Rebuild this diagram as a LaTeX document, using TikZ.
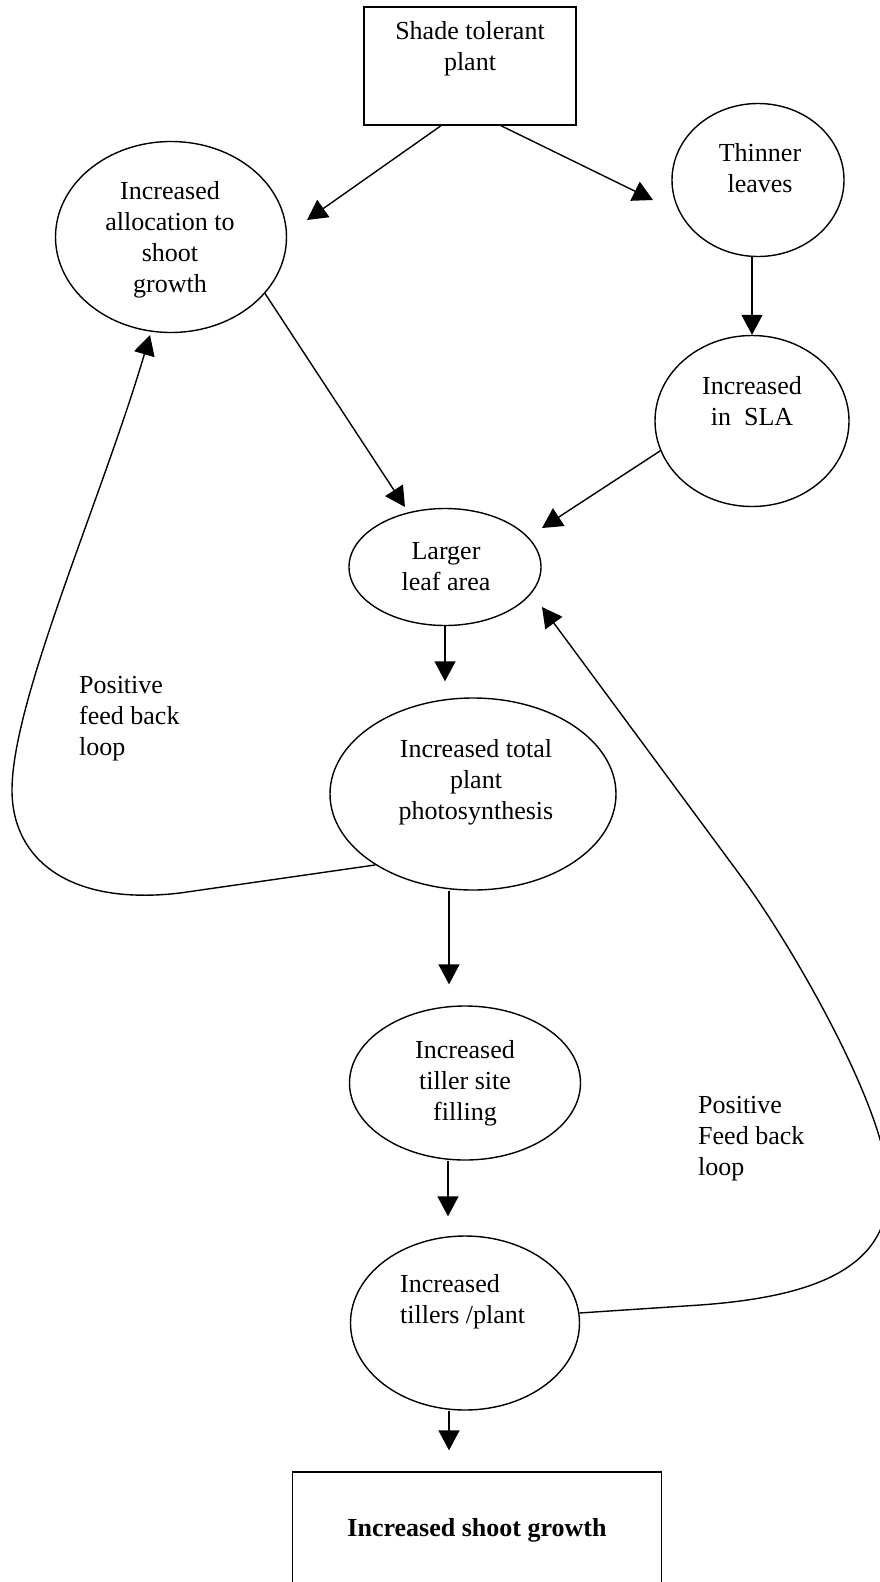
\documentclass[tikz,border=0pt]{standalone}
\usepackage{fontspec}
\setmainfont{Liberation Serif}
\usetikzlibrary{shapes.geometric}
\usetikzlibrary{arrows.meta}

\begin{document}
\begin{tikzpicture}[x=1pt,y=-1pt,
        bubble/.style={draw,ellipse,line width=1.4pt,inner sep=0pt},
        box/.style={draw,rectangle,line width=1.4pt,inner sep=0pt},
        lbl/.style={align=center,inner sep=0pt,font=\fontsize{26}{31}\selectfont},
        arr/.style={line width=1.4pt,-{Triangle[length=20pt,width=21pt]}}]
        \useasboundingbox (0,0) rectangle (880,1582);

        % shapes
        \node[box,minimum width=212pt,minimum height=118pt] (shade) at (470,66) {};
        \node[bubble,minimum width=231pt,minimum height=191pt] (alloc) at (171,237) {};
        \node[bubble,minimum width=172pt,minimum height=153pt] (thin) at (758,180) {};
        \node[bubble,minimum width=194pt,minimum height=171pt] (sla) at (752,421) {};
        \node[bubble,minimum width=192pt,minimum height=117pt] (leaf) at (445,567) {};
        \node[bubble,minimum width=286pt,minimum height=192pt] (photo) at (473,794) {};
        \node[bubble,minimum width=231pt,minimum height=154pt] (site) at (465,1083) {};
        \node[bubble,minimum width=229pt,minimum height=174pt] (tillers) at (465,1323) {};
        \node[box,minimum width=369pt,minimum height=140pt] (shoot) at (477,1542) {};

        % texts
        \node[lbl] (shade-t) at (470,49) {Shade tolerant\\plant};
        \node[lbl] (alloc-t) at (170,240) {Increased\\allocation to\\shoot\\growth};
        \node[lbl] (thin-t) at (760,168) {Thinner\\leaves};
        \node[lbl] (sla-t) at (752,401) {Increased\\in\ \ SLA};
        \node[lbl] (leaf-t) at (446,567) {Larger\\leaf area};
        \node[lbl] (photo-t) at (476,782) {Increased total\\plant\\photosynthesis};
        \node[lbl] (site-t) at (465,1083) {Increased\\tiller site\\filling};
        \node[lbl,align=left,anchor=west] (tillers-t) at (400,1302) {Increased\\tillers /plant};
        \node[lbl,font=\fontsize{26}{31}\selectfont\bfseries] (shoot-t) at (477,1530) {Increased shoot growth};
        \node[lbl,align=left,anchor=west] (fb-left) at (79,719) {Positive\\feed back\\loop};
        \node[lbl,align=left,anchor=west] (fb-right) at (698,1139) {Positive\\Feed back\\loop};

        % arrow ends
        \coordinate (alloc-in) at (307,220);
        \coordinate (thin-in) at (653,200);
        \coordinate (leaf-in) at (405,507);
        \coordinate (leaf-in2) at (542,528);
        \coordinate (alloc-fb) at (150,335);
        \coordinate (leaf-fb) at (542,607);

        \draw[arr] ([xshift=-29pt]shade.south) -- (alloc-in);
        \draw[arr] ([xshift=31pt]shade.south) -- (thin-in);
        \draw[arr] ([xshift=-6pt]thin.south) -- (sla.north);
        \draw[arr] (alloc.-31) -- (leaf-in);
        \draw[arr] (sla.198) -- (leaf-in2);
        \draw[arr,shorten >=16pt] (leaf.south) -- (leaf.south |- photo.north);
        \draw[arr,shorten >=21pt] ([xshift=-24pt]photo.south) -- ([xshift=-16pt]site.north);
        \draw[arr,shorten >=19pt] ([xshift=-17pt]site.south) -- ([xshift=-17pt]tillers.north);
        \draw[arr,shorten >=21pt] ([xshift=-16pt]tillers.south) -- ([xshift=-28pt]shoot.north);

        % feed back loops
        \draw[arr] (photo.216) -- (180,893) .. controls (70,906) and (12,860) .. (12,790)
            .. controls (12,700) and (102,498) .. (alloc-fb);
        \draw[arr] (tillers.5) -- (700,1305) .. controls (810,1297) and (892,1270) .. (888,1185)
            .. controls (888,1110) and (788,939) .. (740,875) -- (leaf-fb);
\end{tikzpicture}
\end{document}
